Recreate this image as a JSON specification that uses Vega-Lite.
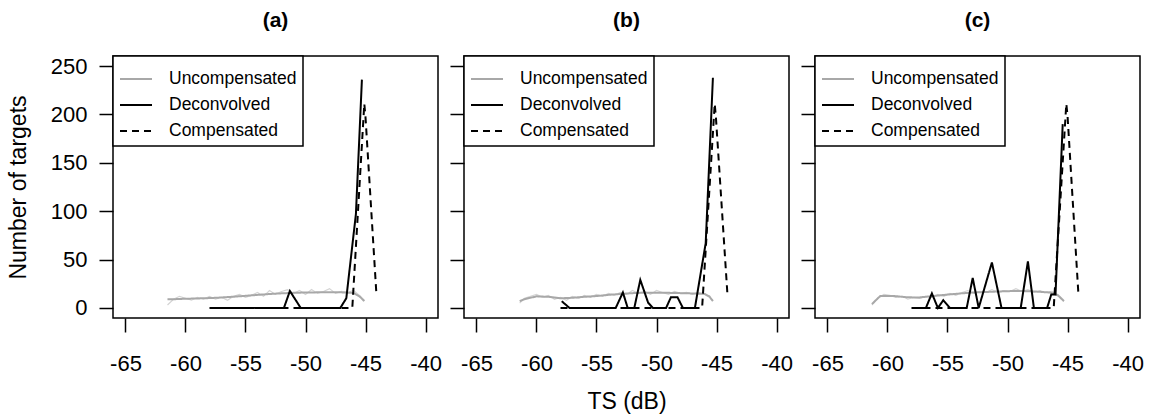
{
  "$schema": "https://vega.github.io/schema/vega-lite/v6.json",
  "background": "white",
  "padding": {"left": 6, "top": 9, "right": 5, "bottom": 2},
  "datasets": {
    "main": [
      {"panel": "a", "series": "Uncompensated", "ts": -61.5, "n": 9},
      {"panel": "a", "series": "Uncompensated", "ts": -61, "n": 9},
      {"panel": "a", "series": "Uncompensated", "ts": -60, "n": 9.5},
      {"panel": "a", "series": "Uncompensated", "ts": -59, "n": 9.8},
      {"panel": "a", "series": "Uncompensated", "ts": -58, "n": 10.2},
      {"panel": "a", "series": "Uncompensated", "ts": -57, "n": 10.8},
      {"panel": "a", "series": "Uncompensated", "ts": -56, "n": 11.6},
      {"panel": "a", "series": "Uncompensated", "ts": -55, "n": 12.5},
      {"panel": "a", "series": "Uncompensated", "ts": -54, "n": 13.5},
      {"panel": "a", "series": "Uncompensated", "ts": -53, "n": 14.4},
      {"panel": "a", "series": "Uncompensated", "ts": -52, "n": 15.1},
      {"panel": "a", "series": "Uncompensated", "ts": -51, "n": 15.6},
      {"panel": "a", "series": "Uncompensated", "ts": -50, "n": 16},
      {"panel": "a", "series": "Uncompensated", "ts": -49, "n": 16.1},
      {"panel": "a", "series": "Uncompensated", "ts": -48, "n": 16.2},
      {"panel": "a", "series": "Uncompensated", "ts": -47, "n": 16.1},
      {"panel": "a", "series": "Uncompensated", "ts": -46, "n": 15.5},
      {"panel": "a", "series": "Uncompensated", "ts": -45.5, "n": 12},
      {"panel": "a", "series": "Uncompensated", "ts": -45.1, "n": 7},

      {"panel": "a", "series": "Deconvolved", "ts": -57.8, "n": 0},
      {"panel": "a", "series": "Deconvolved", "ts": -56.8, "n": 0},
      {"panel": "a", "series": "Deconvolved", "ts": -55.8, "n": 0},
      {"panel": "a", "series": "Deconvolved", "ts": -54.8, "n": 0},
      {"panel": "a", "series": "Deconvolved", "ts": -53.8, "n": 0},
      {"panel": "a", "series": "Deconvolved", "ts": -52.8, "n": 0},
      {"panel": "a", "series": "Deconvolved", "ts": -51.8, "n": 0},
      {"panel": "a", "series": "Deconvolved", "ts": -51.3, "n": 17.5},
      {"panel": "a", "series": "Deconvolved", "ts": -50.4, "n": 0},
      {"panel": "a", "series": "Deconvolved", "ts": -49.3, "n": 0},
      {"panel": "a", "series": "Deconvolved", "ts": -48.3, "n": 0},
      {"panel": "a", "series": "Deconvolved", "ts": -47.1, "n": 0},
      {"panel": "a", "series": "Deconvolved", "ts": -46.6, "n": 10},
      {"panel": "a", "series": "Deconvolved", "ts": -45.8, "n": 97},
      {"panel": "a", "series": "Deconvolved", "ts": -45.3, "n": 236},

      {"panel": "a", "series": "Compensated", "ts": -58, "n": 0},
      {"panel": "a", "series": "Compensated", "ts": -57, "n": 0},
      {"panel": "a", "series": "Compensated", "ts": -56, "n": 0},
      {"panel": "a", "series": "Compensated", "ts": -55, "n": 0},
      {"panel": "a", "series": "Compensated", "ts": -54, "n": 0},
      {"panel": "a", "series": "Compensated", "ts": -53, "n": 0},
      {"panel": "a", "series": "Compensated", "ts": -52, "n": 0},
      {"panel": "a", "series": "Compensated", "ts": -51, "n": 0},
      {"panel": "a", "series": "Compensated", "ts": -50, "n": 0},
      {"panel": "a", "series": "Compensated", "ts": -49, "n": 0},
      {"panel": "a", "series": "Compensated", "ts": -48, "n": 0},
      {"panel": "a", "series": "Compensated", "ts": -47, "n": 0},
      {"panel": "a", "series": "Compensated", "ts": -46.1, "n": 0},
      {"panel": "a", "series": "Compensated", "ts": -45.1, "n": 211},
      {"panel": "a", "series": "Compensated", "ts": -45.0, "n": 197},
      {"panel": "a", "series": "Compensated", "ts": -44.1, "n": 16},

      {"panel": "b", "series": "Uncompensated", "ts": -61.4, "n": 7},
      {"panel": "b", "series": "Uncompensated", "ts": -61, "n": 9},
      {"panel": "b", "series": "Uncompensated", "ts": -60, "n": 12},
      {"panel": "b", "series": "Uncompensated", "ts": -59, "n": 11.5},
      {"panel": "b", "series": "Uncompensated", "ts": -58, "n": 10},
      {"panel": "b", "series": "Uncompensated", "ts": -57, "n": 10.5},
      {"panel": "b", "series": "Uncompensated", "ts": -56, "n": 11.5},
      {"panel": "b", "series": "Uncompensated", "ts": -55, "n": 12.3},
      {"panel": "b", "series": "Uncompensated", "ts": -54, "n": 13.5},
      {"panel": "b", "series": "Uncompensated", "ts": -53, "n": 14.5},
      {"panel": "b", "series": "Uncompensated", "ts": -52, "n": 15.3},
      {"panel": "b", "series": "Uncompensated", "ts": -51, "n": 15.8},
      {"panel": "b", "series": "Uncompensated", "ts": -50, "n": 15.8},
      {"panel": "b", "series": "Uncompensated", "ts": -49, "n": 15.6},
      {"panel": "b", "series": "Uncompensated", "ts": -48, "n": 15.3},
      {"panel": "b", "series": "Uncompensated", "ts": -47, "n": 15},
      {"panel": "b", "series": "Uncompensated", "ts": -46, "n": 14.5},
      {"panel": "b", "series": "Uncompensated", "ts": -45.6, "n": 12},
      {"panel": "b", "series": "Uncompensated", "ts": -45.3, "n": 7},

      {"panel": "b", "series": "Deconvolved", "ts": -57.9, "n": 7},
      {"panel": "b", "series": "Deconvolved", "ts": -57.25, "n": 0},
      {"panel": "b", "series": "Deconvolved", "ts": -56.3, "n": 0},
      {"panel": "b", "series": "Deconvolved", "ts": -55.3, "n": 0},
      {"panel": "b", "series": "Deconvolved", "ts": -54.3, "n": 0},
      {"panel": "b", "series": "Deconvolved", "ts": -53.4, "n": 0},
      {"panel": "b", "series": "Deconvolved", "ts": -52.8, "n": 16},
      {"panel": "b", "series": "Deconvolved", "ts": -52.4, "n": 0},
      {"panel": "b", "series": "Deconvolved", "ts": -51.85, "n": 0},
      {"panel": "b", "series": "Deconvolved", "ts": -51.35, "n": 29},
      {"panel": "b", "series": "Deconvolved", "ts": -50.7, "n": 5.5},
      {"panel": "b", "series": "Deconvolved", "ts": -50.3, "n": 0},
      {"panel": "b", "series": "Deconvolved", "ts": -49.2, "n": 0},
      {"panel": "b", "series": "Deconvolved", "ts": -48.8, "n": 11},
      {"panel": "b", "series": "Deconvolved", "ts": -48.25, "n": 11},
      {"panel": "b", "series": "Deconvolved", "ts": -47.8, "n": 0},
      {"panel": "b", "series": "Deconvolved", "ts": -46.8, "n": 0},
      {"panel": "b", "series": "Deconvolved", "ts": -45.9, "n": 67},
      {"panel": "b", "series": "Deconvolved", "ts": -45.3, "n": 238},

      {"panel": "b", "series": "Compensated", "ts": -58, "n": 0},
      {"panel": "b", "series": "Compensated", "ts": -57, "n": 0},
      {"panel": "b", "series": "Compensated", "ts": -56, "n": 0},
      {"panel": "b", "series": "Compensated", "ts": -55, "n": 0},
      {"panel": "b", "series": "Compensated", "ts": -54, "n": 0},
      {"panel": "b", "series": "Compensated", "ts": -53, "n": 0},
      {"panel": "b", "series": "Compensated", "ts": -52, "n": 0},
      {"panel": "b", "series": "Compensated", "ts": -51, "n": 0},
      {"panel": "b", "series": "Compensated", "ts": -50, "n": 0},
      {"panel": "b", "series": "Compensated", "ts": -49, "n": 0},
      {"panel": "b", "series": "Compensated", "ts": -48, "n": 0},
      {"panel": "b", "series": "Compensated", "ts": -47, "n": 0},
      {"panel": "b", "series": "Compensated", "ts": -46.2, "n": 0},
      {"panel": "b", "series": "Compensated", "ts": -45.15, "n": 211},
      {"panel": "b", "series": "Compensated", "ts": -45.05, "n": 197},
      {"panel": "b", "series": "Compensated", "ts": -44.1, "n": 16},

      {"panel": "c", "series": "Uncompensated", "ts": -61.3, "n": 4},
      {"panel": "c", "series": "Uncompensated", "ts": -60.6, "n": 12.4},
      {"panel": "c", "series": "Uncompensated", "ts": -59.5, "n": 12.4},
      {"panel": "c", "series": "Uncompensated", "ts": -58.5, "n": 11.2},
      {"panel": "c", "series": "Uncompensated", "ts": -57.5, "n": 10.7},
      {"panel": "c", "series": "Uncompensated", "ts": -56.1, "n": 12.4},
      {"panel": "c", "series": "Uncompensated", "ts": -55, "n": 13.8},
      {"panel": "c", "series": "Uncompensated", "ts": -54, "n": 14.9},
      {"panel": "c", "series": "Uncompensated", "ts": -53.1, "n": 15.8},
      {"panel": "c", "series": "Uncompensated", "ts": -52, "n": 16.4},
      {"panel": "c", "series": "Uncompensated", "ts": -51, "n": 16.9},
      {"panel": "c", "series": "Uncompensated", "ts": -50, "n": 17.3},
      {"panel": "c", "series": "Uncompensated", "ts": -49.2, "n": 17.6},
      {"panel": "c", "series": "Uncompensated", "ts": -48, "n": 17.2},
      {"panel": "c", "series": "Uncompensated", "ts": -47, "n": 16.4},
      {"panel": "c", "series": "Uncompensated", "ts": -46.4, "n": 15.8},
      {"panel": "c", "series": "Uncompensated", "ts": -45.8, "n": 13},
      {"panel": "c", "series": "Uncompensated", "ts": -45.3, "n": 7},

      {"panel": "c", "series": "Deconvolved", "ts": -57.8, "n": 0},
      {"panel": "c", "series": "Deconvolved", "ts": -56.8, "n": 0},
      {"panel": "c", "series": "Deconvolved", "ts": -56.3, "n": 15},
      {"panel": "c", "series": "Deconvolved", "ts": -55.8, "n": 0},
      {"panel": "c", "series": "Deconvolved", "ts": -55.35, "n": 8},
      {"panel": "c", "series": "Deconvolved", "ts": -54.8, "n": 0},
      {"panel": "c", "series": "Deconvolved", "ts": -53.4, "n": 0},
      {"panel": "c", "series": "Deconvolved", "ts": -52.9, "n": 31},
      {"panel": "c", "series": "Deconvolved", "ts": -52.4, "n": 0},
      {"panel": "c", "series": "Deconvolved", "ts": -51.3, "n": 47},
      {"panel": "c", "series": "Deconvolved", "ts": -50.5, "n": 0},
      {"panel": "c", "series": "Deconvolved", "ts": -49.7, "n": 0},
      {"panel": "c", "series": "Deconvolved", "ts": -48.9, "n": 0},
      {"panel": "c", "series": "Deconvolved", "ts": -48.3, "n": 48},
      {"panel": "c", "series": "Deconvolved", "ts": -47.8, "n": 0},
      {"panel": "c", "series": "Deconvolved", "ts": -46.7, "n": 0},
      {"panel": "c", "series": "Deconvolved", "ts": -46.35, "n": 14},
      {"panel": "c", "series": "Deconvolved", "ts": -46.0, "n": 14},
      {"panel": "c", "series": "Deconvolved", "ts": -45.4, "n": 190},

      {"panel": "c", "series": "Compensated", "ts": -58, "n": 0},
      {"panel": "c", "series": "Compensated", "ts": -57, "n": 0},
      {"panel": "c", "series": "Compensated", "ts": -56, "n": 0},
      {"panel": "c", "series": "Compensated", "ts": -55, "n": 0},
      {"panel": "c", "series": "Compensated", "ts": -54, "n": 0},
      {"panel": "c", "series": "Compensated", "ts": -53, "n": 0},
      {"panel": "c", "series": "Compensated", "ts": -52, "n": 0},
      {"panel": "c", "series": "Compensated", "ts": -51, "n": 0},
      {"panel": "c", "series": "Compensated", "ts": -50, "n": 0},
      {"panel": "c", "series": "Compensated", "ts": -49, "n": 0},
      {"panel": "c", "series": "Compensated", "ts": -48, "n": 0},
      {"panel": "c", "series": "Compensated", "ts": -47, "n": 0},
      {"panel": "c", "series": "Compensated", "ts": -46.15, "n": 0},
      {"panel": "c", "series": "Compensated", "ts": -45.1, "n": 211},
      {"panel": "c", "series": "Compensated", "ts": -45.0, "n": 199},
      {"panel": "c", "series": "Compensated", "ts": -44.1, "n": 16}
    ],
    "raw": [
      {"panel": "a", "ts": -61.5, "n": 3}, {"panel": "a", "ts": -61, "n": 9}, {"panel": "a", "ts": -60.5, "n": 12},
      {"panel": "a", "ts": -60, "n": 10}, {"panel": "a", "ts": -59.5, "n": 8}, {"panel": "a", "ts": -59, "n": 11},
      {"panel": "a", "ts": -58.5, "n": 9}, {"panel": "a", "ts": -58, "n": 12}, {"panel": "a", "ts": -57.5, "n": 9},
      {"panel": "a", "ts": -57, "n": 11}, {"panel": "a", "ts": -56.5, "n": 8}, {"panel": "a", "ts": -56, "n": 12},
      {"panel": "a", "ts": -55.5, "n": 14}, {"panel": "a", "ts": -55, "n": 11}, {"panel": "a", "ts": -54.5, "n": 13},
      {"panel": "a", "ts": -54, "n": 16}, {"panel": "a", "ts": -53.5, "n": 12}, {"panel": "a", "ts": -53, "n": 18},
      {"panel": "a", "ts": -52.5, "n": 14}, {"panel": "a", "ts": -52, "n": 17}, {"panel": "a", "ts": -51.5, "n": 19},
      {"panel": "a", "ts": -51, "n": 15}, {"panel": "a", "ts": -50.5, "n": 18}, {"panel": "a", "ts": -50, "n": 14},
      {"panel": "a", "ts": -49.5, "n": 19}, {"panel": "a", "ts": -49, "n": 15}, {"panel": "a", "ts": -48.5, "n": 17},
      {"panel": "a", "ts": -48, "n": 20}, {"panel": "a", "ts": -47.5, "n": 15}, {"panel": "a", "ts": -47, "n": 17},
      {"panel": "a", "ts": -46.5, "n": 16}, {"panel": "a", "ts": -46, "n": 18}, {"panel": "a", "ts": -45.5, "n": 13},
      {"panel": "a", "ts": -45.1, "n": 8},

      {"panel": "b", "ts": -61.4, "n": 5}, {"panel": "b", "ts": -61, "n": 10}, {"panel": "b", "ts": -60.5, "n": 12},
      {"panel": "b", "ts": -60, "n": 14}, {"panel": "b", "ts": -59.5, "n": 11}, {"panel": "b", "ts": -59, "n": 13},
      {"panel": "b", "ts": -58.5, "n": 9}, {"panel": "b", "ts": -58, "n": 11}, {"panel": "b", "ts": -57.5, "n": 8},
      {"panel": "b", "ts": -57, "n": 12}, {"panel": "b", "ts": -56.5, "n": 10}, {"panel": "b", "ts": -56, "n": 13},
      {"panel": "b", "ts": -55.5, "n": 11}, {"panel": "b", "ts": -55, "n": 14}, {"panel": "b", "ts": -54.5, "n": 12},
      {"panel": "b", "ts": -54, "n": 15}, {"panel": "b", "ts": -53.5, "n": 13}, {"panel": "b", "ts": -53, "n": 16},
      {"panel": "b", "ts": -52.5, "n": 14}, {"panel": "b", "ts": -52, "n": 18}, {"panel": "b", "ts": -51.5, "n": 15},
      {"panel": "b", "ts": -51, "n": 17}, {"panel": "b", "ts": -50.5, "n": 14}, {"panel": "b", "ts": -50, "n": 18},
      {"panel": "b", "ts": -49.5, "n": 16}, {"panel": "b", "ts": -49, "n": 14}, {"panel": "b", "ts": -48.5, "n": 17},
      {"panel": "b", "ts": -48, "n": 15}, {"panel": "b", "ts": -47.5, "n": 16}, {"panel": "b", "ts": -47, "n": 14},
      {"panel": "b", "ts": -46.5, "n": 16}, {"panel": "b", "ts": -46, "n": 14}, {"panel": "b", "ts": -45.6, "n": 11},
      {"panel": "b", "ts": -45.3, "n": 8},

      {"panel": "c", "ts": -61.3, "n": 3}, {"panel": "c", "ts": -60.8, "n": 10}, {"panel": "c", "ts": -60.3, "n": 14},
      {"panel": "c", "ts": -59.8, "n": 13}, {"panel": "c", "ts": -59.3, "n": 11}, {"panel": "c", "ts": -58.8, "n": 12},
      {"panel": "c", "ts": -58.3, "n": 9}, {"panel": "c", "ts": -57.8, "n": 11}, {"panel": "c", "ts": -57.3, "n": 10},
      {"panel": "c", "ts": -56.8, "n": 12}, {"panel": "c", "ts": -56.3, "n": 11}, {"panel": "c", "ts": -55.8, "n": 14},
      {"panel": "c", "ts": -55.3, "n": 12}, {"panel": "c", "ts": -54.8, "n": 15}, {"panel": "c", "ts": -54.3, "n": 13},
      {"panel": "c", "ts": -53.8, "n": 16}, {"panel": "c", "ts": -53.3, "n": 18}, {"panel": "c", "ts": -52.8, "n": 15},
      {"panel": "c", "ts": -52.3, "n": 17}, {"panel": "c", "ts": -51.8, "n": 16}, {"panel": "c", "ts": -51.3, "n": 19},
      {"panel": "c", "ts": -50.8, "n": 16}, {"panel": "c", "ts": -50.3, "n": 18}, {"panel": "c", "ts": -49.8, "n": 17},
      {"panel": "c", "ts": -49.3, "n": 20}, {"panel": "c", "ts": -48.8, "n": 17}, {"panel": "c", "ts": -48.3, "n": 19},
      {"panel": "c", "ts": -47.8, "n": 16}, {"panel": "c", "ts": -47.3, "n": 18}, {"panel": "c", "ts": -46.8, "n": 16},
      {"panel": "c", "ts": -46.3, "n": 17}, {"panel": "c", "ts": -45.8, "n": 14}, {"panel": "c", "ts": -45.3, "n": 8}
    ]
  },
  "hconcat": [
    {
      "width": 325, "height": 262,
      "title": "(a)",
      "layer": [
        {
          "data": {"name": "raw"},
          "transform": [{"filter": "datum.panel === 'a'"}],
          "mark": {"type": "line", "color": "#d4d4d4", "strokeWidth": 1.2},
          "encoding": {
            "x": {"field": "ts", "type": "quantitative", "scale": {"domain": [-66.04, -38.96], "nice": false, "zero": false},
                  "axis": {"values": [-65, -60, -55, -50, -45, -40], "title": null}},
            "y": {"field": "n", "type": "quantitative", "scale": {"domain": [-10.4, 260.4], "nice": false},
                  "axis": {"values": [0, 50, 100, 150, 200, 250], "title": "Number of targets", "titlePadding": 20}}
          }
        },
        {
          "data": {"name": "main"},
          "transform": [{"filter": "datum.panel === 'a'"}],
          "mark": {"type": "line", "strokeWidth": 2},
          "encoding": {
            "x": {"field": "ts", "type": "quantitative"},
            "y": {"field": "n", "type": "quantitative"},
            "color": {"field": "series", "type": "nominal", "title": null,
                      "scale": {"domain": ["Uncompensated", "Deconvolved", "Compensated"], "range": ["#a8a8a8", "#000000", "#000000"]}},
            "strokeDash": {"field": "series", "type": "nominal", "title": null,
                      "scale": {"domain": ["Uncompensated", "Deconvolved", "Compensated"], "range": [[1, 0], [1, 0], [7, 5]]}}
          }
        }
      ]
    },
    {
      "width": 325, "height": 262,
      "title": "(b)",
      "layer": [
        {
          "data": {"name": "raw"},
          "transform": [{"filter": "datum.panel === 'b'"}],
          "mark": {"type": "line", "color": "#d4d4d4", "strokeWidth": 1.2},
          "encoding": {
            "x": {"field": "ts", "type": "quantitative", "scale": {"domain": [-66.04, -38.96], "nice": false, "zero": false},
                  "axis": {"values": [-65, -60, -55, -50, -45, -40], "title": "TS (dB)", "titlePadding": 16}},
            "y": {"field": "n", "type": "quantitative", "scale": {"domain": [-10.4, 260.4], "nice": false},
                  "axis": {"values": [0, 50, 100, 150, 200, 250], "title": null, "labels": false}}
          }
        },
        {
          "data": {"name": "main"},
          "transform": [{"filter": "datum.panel === 'b'"}],
          "mark": {"type": "line", "strokeWidth": 2},
          "encoding": {
            "x": {"field": "ts", "type": "quantitative"},
            "y": {"field": "n", "type": "quantitative"},
            "color": {"field": "series", "type": "nominal", "title": null,
                      "scale": {"domain": ["Uncompensated", "Deconvolved", "Compensated"], "range": ["#a8a8a8", "#000000", "#000000"]}},
            "strokeDash": {"field": "series", "type": "nominal", "title": null,
                      "scale": {"domain": ["Uncompensated", "Deconvolved", "Compensated"], "range": [[1, 0], [1, 0], [7, 5]]}}
          }
        }
      ]
    },
    {
      "width": 325, "height": 262,
      "title": "(c)",
      "layer": [
        {
          "data": {"name": "raw"},
          "transform": [{"filter": "datum.panel === 'c'"}],
          "mark": {"type": "line", "color": "#d4d4d4", "strokeWidth": 1.2},
          "encoding": {
            "x": {"field": "ts", "type": "quantitative", "scale": {"domain": [-66.04, -38.96], "nice": false, "zero": false},
                  "axis": {"values": [-65, -60, -55, -50, -45, -40], "title": null}},
            "y": {"field": "n", "type": "quantitative", "scale": {"domain": [-10.4, 260.4], "nice": false},
                  "axis": {"values": [0, 50, 100, 150, 200, 250], "title": null, "labels": false}}
          }
        },
        {
          "data": {"name": "main"},
          "transform": [{"filter": "datum.panel === 'c'"}],
          "mark": {"type": "line", "strokeWidth": 2},
          "encoding": {
            "x": {"field": "ts", "type": "quantitative"},
            "y": {"field": "n", "type": "quantitative"},
            "color": {"field": "series", "type": "nominal", "title": null,
                      "scale": {"domain": ["Uncompensated", "Deconvolved", "Compensated"], "range": ["#a8a8a8", "#000000", "#000000"]}},
            "strokeDash": {"field": "series", "type": "nominal", "title": null,
                      "scale": {"domain": ["Uncompensated", "Deconvolved", "Compensated"], "range": [[1, 0], [1, 0], [7, 5]]}}
          }
        }
      ]
    }
  ],
  "bounds": "flush",
  "spacing": 26,
  "resolve": {
    "scale": {"color": "independent", "strokeDash": "independent"},
    "legend": {"color": "independent", "strokeDash": "independent"}
  },
  "config": {
    "font": "Liberation Sans",
    "view": {"stroke": "#000000", "strokeWidth": 1.5},
    "axis": {
      "grid": false, "domain": false, "tickColor": "#000000", "tickSize": 14, "tickWidth": 1.5,
      "labelFont": "Liberation Sans", "labelFontSize": 22, "labelColor": "#000000",
      "titleFont": "Liberation Sans", "titleFontSize": 23, "titleFontWeight": "normal", "titleColor": "#000000",
      "labelOverlap": false,
      "labelExpr": "replace(datum.label, '\u2212', '-')"
    },
    "axisX": {"labelPadding": 21, "labelFlush": false},
    "axisY": {"labelPadding": 12},
    "legend": {
      "orient": "top-left", "offset": 0, "padding": 6, "strokeColor": "#000000", "strokeWidth": 1.5,
      "fillColor": "white",
      "symbolType": "stroke", "symbolSize": 1024, "symbolStrokeWidth": 2,
      "labelFont": "Liberation Sans", "labelFontSize": 17.5, "labelColor": "#000000", "labelOffset": 16,
      "rowPadding": -11, "labelLimit": 300
    },
    "title": {"font": "Liberation Sans", "fontSize": 21, "fontWeight": "bold", "anchor": "middle", "offset": 24, "color": "#000000"}
  }
}
